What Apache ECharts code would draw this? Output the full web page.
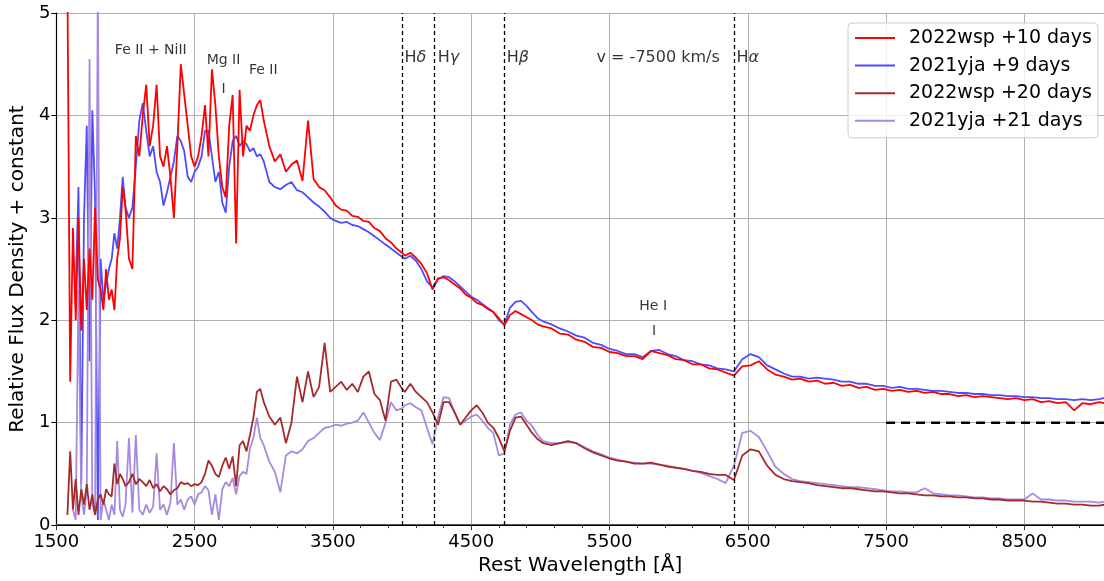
<!DOCTYPE html>
<html><head><meta charset="utf-8">
<script src="https://cdn.jsdelivr.net/npm/echarts@6.0.0/dist/echarts.min.js"></script>
<style>html,body{margin:0;padding:0;background:#fff}#c{width:1104px;height:581px}</style>
</head><body><div id="c"></div>
<script>
const waves = [1580,1600,1620,1640,1660,1680,1700,1720,1740,1760,1780,1800,1820,1840,1860,1880,1900,1920,1940,1960,1980,2000,
2025,2050,2075,2100,2125,2150,2175,2200,2225,2250,2275,2300,2325,2350,2375,2400,2425,2450,2475,2500,2525,2550,2575,2600,2625,2650,2675,2700,2725,2750,2775,2800,2825,2850,2875,2900,2925,2950,2975,3000,
3040,3080,3120,3160,3200,3240,3280,3320,3360,3400,3440,3480,3520,3560,3600,3640,3680,3720,3760,3800,3840,3880,3920,3960,4000,
4020,4060,4100,4140,4180,4220,4260,4300,4340,4380,4420,4460,4500,4540,4580,4620,4660,4700,4740,4780,4820,4860,4900,4940,4980,
5020,5080,5140,5200,5260,5320,5380,5440,5500,5560,5620,5680,5740,5800,5860,5920,5980,6040,6100,6160,6220,6280,6340,6400,6460,6520,6580,6640,6700,6760,6820,6880,6940,7000,7060,7120,7180,7240,7300,7360,7420,7480,7540,7600,7660,7720,7780,7840,7900,7960,8020,8080,8140,8200,8260,8320,8380,8440,8500,8560,8620,8680,8740,8800,8860,8920,8980,9040,9080];

const wsp10 = [5.3,1.4,2.9,2.0,3.0,1.9,2.6,2.1,2.7,2.2,3.1,2.4,2.3,2.1,2.5,2.2,2.3,2.1,2.6,2.8,3.3,3.1,
2.6,2.5,3.8,3.6,4.0,4.3,3.7,3.9,4.3,3.6,3.5,3.7,3.4,3.0,3.7,4.5,4.2,3.9,3.6,3.5,3.6,3.8,4.1,3.6,4.45,4.1,3.6,3.3,3.2,3.9,4.2,2.75,4.25,3.6,3.9,3.85,4.0,4.1,4.15,3.95,
3.7,3.55,3.62,3.45,3.52,3.56,3.36,3.95,3.38,3.3,3.27,3.2,3.12,3.08,3.07,3.02,3.01,2.97,2.96,2.9,2.87,2.8,2.76,2.7,2.66,
2.63,2.66,2.61,2.55,2.46,2.3,2.41,2.42,2.39,2.35,2.31,2.25,2.22,2.17,2.15,2.11,2.08,2.02,1.95,2.05,2.09,2.06,2.03,2.0,1.96,
1.94,1.92,1.87,1.86,1.81,1.79,1.74,1.73,1.69,1.68,1.65,1.65,1.62,1.7,1.68,1.66,1.62,1.61,1.57,1.57,1.53,1.52,1.49,1.46,1.55,1.56,1.6,1.52,1.47,1.45,1.42,1.43,1.4,1.41,1.38,1.39,1.36,1.37,1.34,1.35,1.32,1.33,1.31,1.32,1.3,1.31,1.29,1.3,1.28,1.28,1.26,1.27,1.25,1.26,1.25,1.24,1.23,1.24,1.22,1.23,1.2,1.21,1.19,1.2,1.12,1.19,1.18,1.2,1.19];

const yja9 = [null,null,null,2.3,3.3,0.4,3.0,3.9,1.6,4.05,3.2,0.05,2.6,2.2,2.35,2.5,2.6,2.85,2.7,3.0,3.4,3.1,
3.0,3.1,3.5,3.95,4.12,3.85,3.6,3.7,3.45,3.35,3.12,3.25,3.4,3.55,3.8,3.75,3.65,3.4,3.35,3.45,3.5,3.6,3.85,3.85,3.6,3.35,3.45,3.15,3.05,3.5,3.75,3.8,3.7,3.75,3.72,3.65,3.68,3.6,3.62,3.55,
3.35,3.3,3.28,3.32,3.35,3.27,3.25,3.2,3.15,3.11,3.06,3.0,2.97,2.95,2.96,2.93,2.92,2.89,2.86,2.82,2.78,2.74,2.7,2.66,2.62,
2.6,2.63,2.58,2.5,2.38,2.32,2.4,2.43,2.42,2.38,2.33,2.28,2.23,2.2,2.16,2.12,2.08,2.0,1.96,2.12,2.18,2.19,2.14,2.08,2.02,
1.99,1.96,1.92,1.89,1.85,1.83,1.78,1.76,1.72,1.7,1.67,1.67,1.64,1.7,1.71,1.67,1.65,1.61,1.6,1.57,1.56,1.53,1.52,1.5,1.62,1.67,1.64,1.56,1.52,1.48,1.45,1.45,1.43,1.44,1.43,1.42,1.4,1.4,1.38,1.38,1.36,1.36,1.34,1.35,1.33,1.33,1.32,1.31,1.31,1.3,1.29,1.29,1.28,1.28,1.27,1.27,1.26,1.26,1.25,1.25,1.24,1.24,1.23,1.23,1.22,1.23,1.22,1.23,1.24];

const wsp20 = [0.1,0.72,0.15,0.45,0.1,0.35,0.2,0.4,0.15,0.3,0.1,0.25,0.3,0.2,0.35,0.3,0.28,0.6,0.4,0.5,0.45,0.38,
0.42,0.5,0.4,0.45,0.42,0.38,0.44,0.36,0.4,0.33,0.38,0.35,0.3,0.34,0.36,0.42,0.4,0.41,0.38,0.4,0.39,0.42,0.5,0.63,0.58,0.5,0.47,0.58,0.66,0.55,0.67,0.38,0.78,0.82,0.72,0.88,1.05,1.3,1.33,1.2,
1.06,0.98,1.05,0.8,1.0,1.45,1.2,1.5,1.25,1.35,1.78,1.3,1.35,1.4,1.32,1.38,1.3,1.45,1.5,1.28,1.22,1.02,1.4,1.42,1.33,
1.3,1.38,1.3,1.25,1.2,1.1,0.98,1.2,1.2,1.1,0.98,1.05,1.12,1.17,1.1,1.0,0.95,0.85,0.72,0.92,1.05,1.06,0.98,0.9,0.84,
0.8,0.78,0.8,0.82,0.8,0.75,0.71,0.68,0.65,0.63,0.62,0.6,0.6,0.61,0.59,0.57,0.56,0.55,0.53,0.52,0.5,0.49,0.49,0.44,0.68,0.74,0.72,0.58,0.49,0.45,0.43,0.42,0.41,0.39,0.38,0.37,0.36,0.36,0.35,0.34,0.33,0.33,0.32,0.31,0.31,0.3,0.29,0.29,0.28,0.28,0.27,0.27,0.26,0.26,0.25,0.25,0.24,0.24,0.24,0.23,0.23,0.22,0.21,0.21,0.2,0.2,0.19,0.19,0.2];

const yja21 = [null,null,0.15,0.05,2.3,0.3,0.1,0.35,4.55,0.2,0.1,5.3,0.05,0.25,0.15,0.05,0.2,0.1,0.82,0.15,0.08,0.2,
0.85,0.12,0.88,0.15,0.1,0.2,0.12,0.18,0.7,0.15,0.2,0.1,0.22,0.8,0.2,0.25,0.15,0.25,0.28,0.2,0.3,0.32,0.38,0.34,0.1,0.3,0.05,0.35,0.42,0.38,0.46,0.3,0.48,0.52,0.5,0.75,0.85,1.05,0.85,0.78,
0.62,0.52,0.32,0.68,0.72,0.7,0.74,0.82,0.85,0.9,0.95,0.96,0.98,0.97,0.99,1.0,1.02,1.1,1.0,0.9,0.83,1.0,1.2,1.12,1.14,
1.17,1.19,1.15,1.12,0.95,0.79,1.05,1.25,1.24,1.1,0.98,1.02,1.06,1.08,1.02,0.95,0.9,0.68,0.7,0.98,1.08,1.1,1.02,0.97,0.88,
0.82,0.8,0.8,0.81,0.8,0.76,0.72,0.69,0.66,0.64,0.62,0.61,0.6,0.6,0.59,0.58,0.56,0.55,0.53,0.51,0.48,0.45,0.41,0.58,0.9,0.92,0.86,0.72,0.57,0.5,0.45,0.43,0.42,0.41,0.4,0.39,0.38,0.37,0.37,0.36,0.35,0.34,0.33,0.33,0.32,0.32,0.36,0.31,0.3,0.29,0.29,0.28,0.27,0.27,0.26,0.26,0.25,0.25,0.25,0.31,0.25,0.25,0.24,0.24,0.23,0.23,0.23,0.22,0.23];

const seriesNames = ['2022wsp +10 days','2021yja +9 days','2022wsp +20 days','2021yja +21 days'];
const seriesColors = ['#ff0000','#4d4dff','#a52a2a','#a68ae0'];
const xTicks = [1500,2500,3500,4500,5500,6500,7500,8500];
const yTicks = [0,1,2,3,4,5];
const balmerWaves = [3999,4232,4740,6399];
const refLineX = [7500,9076];
const refLineY = [1,1];
const annoText = ['Fe II + NiII','Mg II','I','Fe II','He I','I','H{i|δ}','H{i|γ}','H{i|β}','v = -7500 km/s','H{i|α}'];
const annoX = [2183,2709,2709,2996,5816,5823,4097,4335,4838,5852,6500];
const annoY = [4.64,4.54,4.25,4.44,2.14,1.89,4.56,4.56,4.56,4.56,4.56];
const annoSize = [14,14,14,14,14,14,16,16,16,16,16];

const zip = (xs, ys) => xs.map((x, i) => [x, ys[i]]);
const spectra = [wsp10, yja9, wsp20, yja21];
const FONT = 'DejaVu Sans';

function specSeries(idx, z) {
  return {
    name: seriesNames[idx], type: 'line', data: zip(waves, spectra[idx]),
    symbol: 'none', showSymbol: false, connectNulls: false, clip: true,
    lineStyle: { color: seriesColors[idx], width: 1.8 },
    itemStyle: { color: seriesColors[idx] },
    z: z, animation: false, silent: true
  };
}

const chart = echarts.init(document.getElementById('c'), null, { renderer: 'canvas' });
chart.setOption({
  animation: false,
  textStyle: { fontFamily: FONT },
  grid: { left: 51, right: 0, top: 13, bottom: 53, containLabel: false },
  legend: {
    data: seriesNames, orient: 'vertical', left: 848, top: 23,
    icon: 'rect', itemWidth: 40, itemHeight: 2, itemGap: 7.6, padding: [5, 6, 7, 7],
    backgroundColor: 'rgba(255,255,255,0.8)', borderColor: '#cccccc', borderWidth: 1, borderRadius: 4,
    textStyle: { fontSize: 19, color: '#000', fontFamily: FONT, padding: [0, 0, 0, 9], lineHeight: 20 },
    selectedMode: false
  },
  xAxis: [{
    type: 'value', min: 1500, max: 9076, interval: 1000,
    axisLine: { show: true, onZero: false, lineStyle: { color: '#555', width: 2 } },
    axisTick: { show: true, length: 5, lineStyle: { color: '#333', width: 1 } },
    minorTick: { show: true, splitNumber: 5, length: 3, lineStyle: { color: '#333', width: 1 } },
    axisLabel: { fontSize: 18, color: '#000', fontFamily: FONT, margin: 8, showMaxLabel: false,
      formatter: v => (xTicks.indexOf(v) >= 0 ? String(v) : '') },
    splitLine: { show: true, lineStyle: { color: '#b0b0b0', width: 1 } },
    name: 'Rest Wavelength [Å]', nameLocation: 'middle', nameGap: 30,
    nameTextStyle: { fontSize: 20, color: '#000', fontFamily: FONT }
  }, {
    type: 'value', position: 'top', min: 1500, max: 9076,
    axisLine: { show: true, lineStyle: { color: '#000', width: 1.2 } },
    axisTick: { show: false }, axisLabel: { show: false }, splitLine: { show: false }
  }],
  yAxis: {
    type: 'value', min: 0, max: 5, interval: 1,
    axisLine: { show: true, lineStyle: { color: '#000', width: 1.2 } },
    axisTick: { show: true, length: 5, lineStyle: { color: '#000' } },
    axisLabel: { fontSize: 18, color: '#000', fontFamily: FONT, margin: 6,
      formatter: v => (yTicks.indexOf(v) >= 0 ? String(v) : '') },
    splitLine: { show: true, lineStyle: { color: '#b0b0b0', width: 1 } },
    name: 'Relative Flux Density + constant', nameLocation: 'middle', nameGap: 19, nameRotate: 90,
    nameTextStyle: { fontSize: 20, color: '#000', fontFamily: FONT }
  },
  series: [
    specSeries(1, 2),
    specSeries(0, 3),
    specSeries(3, 2),
    specSeries(2, 3),
    {
      name: 'ref', type: 'line', data: zip(refLineX, refLineY), symbol: 'none',
      lineStyle: { color: '#000', width: 2.5, type: [9, 6] }, z: 4, silent: true,
      markLine: {
        silent: true, symbol: ['none', 'none'], label: { show: false },
        lineStyle: { color: '#000', width: 1.3, type: [4, 3] },
        data: balmerWaves.map(w => ({ xAxis: w }))
      }
    },
    {
      name: 'annotations', type: 'scatter', symbolSize: 1, silent: true, z: 5,
      itemStyle: { color: 'rgba(0,0,0,0)' },
      data: annoText.map((t, i) => ({
        value: [annoX[i], annoY[i]],
        label: {
          show: true, position: 'inside', formatter: t, color: '#000', fontFamily: FONT,
          fontSize: annoSize[i],
          rich: { i: { fontStyle: 'italic', fontSize: annoSize[i], fontFamily: FONT, color: '#000' } }
        }
      }))
    }
  ]
});
</script>
</body></html>
